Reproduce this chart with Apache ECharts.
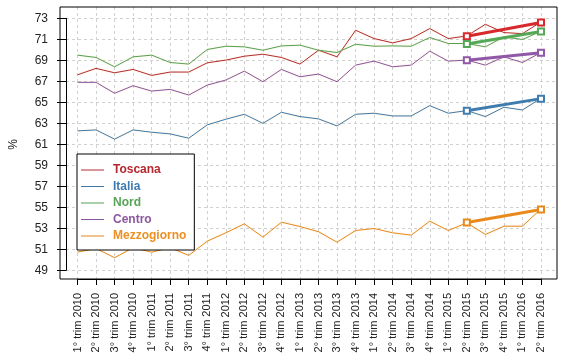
<!DOCTYPE html>
<html>
<head>
<meta charset="utf-8">
<script src="https://cdn.jsdelivr.net/npm/echarts@6/dist/echarts.min.js"></script>
<style>html,body{margin:0;padding:0;background:#fff}#c{width:567px;height:358px}</style>
</head>
<body>
<div id="c"></div>
<script>
const categories = ["1° trim 2010","2° trim 2010","3° trim 2010","4° trim 2010","1° trim 2011","2° trim 2011","3° trim 2011","4° trim 2011","1° trim 2012","2° trim 2012","3° trim 2012","4° trim 2012","1° trim 2013","2° trim 2013","3° trim 2013","4° trim 2013","1° trim 2014","2° trim 2014","3° trim 2014","4° trim 2014","1° trim 2015","2° trim 2015","3° trim 2015","4° trim 2015","1° trim 2016","2° trim 2016"];
const yTicks = [49,51,53,55,57,59,61,63,65,67,69,71,73];
const toscana = [67.62,68.23,67.81,68.13,67.56,67.88,67.88,68.76,69.02,69.39,69.58,69.27,68.64,69.96,69.33,71.86,71.07,70.66,71.07,72.02,71.07,71.32,72.43,71.64,71.54,72.65];
const italia = [62.28,62.37,61.49,62.37,62.15,61.99,61.58,62.85,63.39,63.86,63.0,64.05,63.64,63.42,62.75,63.86,63.96,63.7,63.7,64.68,63.96,64.21,63.64,64.53,64.27,65.38];
const nord = [69.49,69.27,68.38,69.33,69.49,68.79,68.64,70.03,70.34,70.28,69.96,70.37,70.44,69.96,69.74,70.53,70.34,70.37,70.34,71.17,70.6,70.6,70.28,71.23,70.98,71.77];
const centro = [66.9,66.9,65.86,66.58,66.07,66.23,65.69,66.64,67.12,67.97,66.96,68.13,67.43,67.69,66.96,68.54,68.92,68.38,68.54,69.87,68.92,69.02,68.54,69.33,68.79,69.75];
const mezzogiorno = [50.73,51.08,50.2,51.15,50.73,51.15,50.42,51.78,52.57,53.43,52.16,53.58,53.17,52.67,51.68,52.79,52.98,52.57,52.35,53.68,52.79,53.52,52.41,53.2,53.2,54.85];
// trend segments: from 2° trim 2015 to 2° trim 2016
const trendFrom = "2° trim 2015", trendTo = "2° trim 2016";
const trendToscana = [71.3, 72.6];
const trendItalia = [64.2, 65.35];
const trendNord = [70.55, 71.75];
const trendCentro = [69.0, 69.72];
const trendMezzogiorno = [53.55, 54.8];

const names = ["Toscana","Italia","Nord","Centro","Mezzogiorno"];
const lineColors = ["#b32b30","#3f79a8","#52a052","#8a55a0","#e3891e"];
const trendColors = ["#d8282c","#3f7cae","#55a855","#9058a6","#e8891c"];
const textColors = ["#b5282e","#3e7ab0","#56a556","#8c57a0","#ec9024"];
const seriesData = [toscana, italia, nord, centro, mezzogiorno];
const trends = [trendToscana, trendItalia, trendNord, trendCentro, trendMezzogiorno];

const FONT = '"Liberation Sans", Arial, sans-serif';
// plot frame
const BOX = {left: 60, right: 10, top: 7, bottom: 79};
// y pixel mapping: 73 -> y 18.3, 49 -> y 270.3
const pxPerUnit = (270.3 - 18.3) / 24;
const yMaxBox = 73 + (18.3 - BOX.top) / pxPerUnit;
const yMinBox = 49 - ((358 - BOX.bottom) - 270.3) / pxPerUnit;

const chart = echarts.init(document.getElementById('c'), null, {renderer: 'canvas'});

const series = [];
names.forEach((n, i) => {
  series.push({
    name: n, type: 'line', xAxisIndex: 2, yAxisIndex: 2,
    data: seriesData[i], symbol: 'none', showSymbol: false,
    lineStyle: {width: 1, color: lineColors[i], shadowBlur: 2, shadowColor: 'rgba(255,200,120,0.35)'},
    itemStyle: {color: lineColors[i]},
    z: 3, animation: false
  });
});
names.forEach((n, i) => {
  series.push({
    name: n + ' trend', type: 'line', xAxisIndex: 2, yAxisIndex: 2,
    data: [[trendFrom, trends[i][0]], [trendTo, trends[i][1]]],
    symbol: 'emptyRect', symbolSize: 6, showSymbol: true,
    lineStyle: {width: 3, color: trendColors[i]},
    itemStyle: {color: trendColors[i], borderWidth: 1.5, borderColor: trendColors[i]},
    z: 4, animation: false
  });
});

chart.setOption({
  animation: false,
  textStyle: {fontFamily: FONT},
  grid: [
    {left: BOX.left, right: BOX.right, top: BOX.top, bottom: BOX.bottom, show: true, borderColor: '#000', borderWidth: 1, backgroundColor: 'transparent', z: 5},
    {left: BOX.left, right: BOX.right, top: 18.3, bottom: 358 - 270.3},
    {left: 77.5, right: 26, top: BOX.top, bottom: BOX.bottom}
  ],
  xAxis: [
    {gridIndex: 0, type: 'value', show: false},
    {gridIndex: 1, type: 'value', show: false},
    {gridIndex: 2, type: 'category', data: categories, boundaryGap: false,
     axisLine: {show: true, lineStyle: {color: '#000', width: 1}},
     axisTick: {show: true, length: 6, alignWithLabel: true, interval: 0, lineStyle: {color: '#000'}},
     axisLabel: {rotate: 90, interval: 0, fontSize: 11, color: '#222', margin: 14, fontFamily: FONT},
     splitLine: {show: true, interval: 0, lineStyle: {color: '#d0d0d0', type: [3, 3], width: 1}}
    }
  ],
  yAxis: [
    {gridIndex: 0, type: 'value', show: false},
    {gridIndex: 1, type: 'value', min: yTicks[0], max: yTicks[yTicks.length - 1], interval: 2,
     name: '%', nameLocation: 'middle', nameRotate: 90, nameGap: 46,
     nameTextStyle: {fontSize: 12, color: '#222', fontFamily: FONT},
     axisLine: {show: true, lineStyle: {color: '#000', width: 1}},
     axisTick: {show: true, length: 9, lineStyle: {color: '#000'}},
     axisLabel: {fontSize: 12, color: '#222', margin: 18, fontFamily: FONT},
     splitLine: {show: true, lineStyle: {color: '#d0d0d0', type: [3, 3], width: 1}}
    },
    {gridIndex: 2, type: 'value', min: yMinBox, max: yMaxBox, show: false, splitLine: {show: false}}
  ],
  legend: {
    orient: 'vertical', left: 77, top: 154,
    padding: [10, 8, 8, 4],
    backgroundColor: '#fff', borderColor: '#000', borderWidth: 1,
    itemWidth: 23, itemHeight: 10, itemGap: 4.5,
    selectedMode: false,
    data: names.map((n, i) => ({name: n, icon: 'path://M0,4.5 H23 V5.5 H0 Z', itemStyle: {color: lineColors[i]},
      textStyle: {color: textColors[i], fontWeight: 'bold', fontSize: 12, fontFamily: FONT, padding: [0, 0, 0, 4]}})),
    z: 10
  },
  series: series
});
</script>
</body>
</html>
